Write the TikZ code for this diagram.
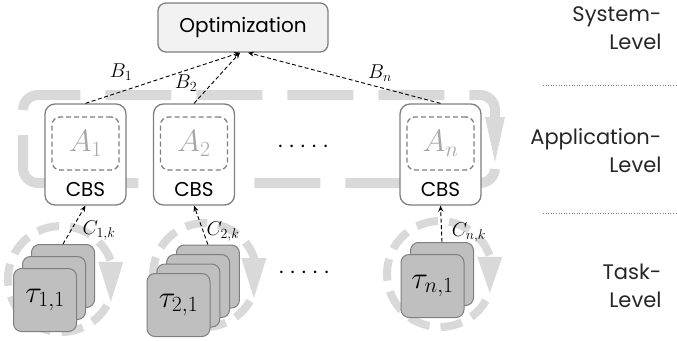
\RequirePackage{fix-cm}
\documentclass[tikz,border=0pt]{standalone}
\usepackage{fontspec}
\setmainfont{Poppins}
\usetikzlibrary{arrows.meta,positioning}
\definecolor{loopgray}{RGB}{217,217,217}
\definecolor{taskgray}{RGB}{191,191,191}
\definecolor{edgegray}{RGB}{127,127,127}
\definecolor{labelgray}{RGB}{166,166,166}
\definecolor{optfill}{RGB}{242,242,242}
\definecolor{textdark}{RGB}{38,38,38}

\begin{document}
\begin{tikzpicture}[x=1pt,y=-1pt,
    optbox/.style={draw=edgegray,line width=1.3pt,fill=optfill,rounded corners=8pt,
      minimum width=170pt,minimum height=49pt,font=\fontsize{20}{22}\selectfont},
    appbox/.style={draw=edgegray,line width=1.3pt,fill=white,rounded corners=10pt,
      minimum width=81pt,minimum height=101pt},
    innerbox/.style={draw=edgegray,line width=1.3pt,dash pattern=on 5pt off 3pt,rounded corners=8pt,
      minimum width=67pt,minimum height=53pt,text=labelgray,font=\fontsize{31}{34}\selectfont},
    cbslabel/.style={inner sep=0pt,font=\fontsize{20}{24}\selectfont},
    taskbox/.style={draw=edgegray,line width=1pt,fill=taskgray,rounded corners=8pt,
      minimum size=63pt,font=\fontsize{31}{34}\selectfont},
    bigloop/.style={loopgray,line width=10pt,rounded corners=15pt,dash pattern=on 66pt off 25pt},
    taskloop/.style={loopgray,line width=8pt,dash pattern=on 22pt off 11pt},
    flow/.style={-{Stealth[length=6pt,width=5pt]},line width=0.9pt,dash pattern=on 4pt off 2.5pt},
    flowlabel/.style={inner sep=1pt,font=\fontsize{20}{24}\selectfont},
    dotrow/.style={inner sep=0pt,font=\fontsize{20}{24}\selectfont},
    levellabel/.style={align=right,anchor=east,text=textdark,font=\fontsize{21}{28}\selectfont},
    sepline/.style={edgegray,line width=0.6pt,dotted}]
  \useasboundingbox (0,0) rectangle (677,340);

  % feedback loops
  \draw[bigloop,-{Triangle[length=45pt,width=20pt,line width=0pt]}] (23,110) -- (23,95) -- (495,95) -- (495,162);
  \draw[bigloop,dash phase=66pt] (23,110) -- (23,183) -- (495,183) -- (495,168);
  \draw[taskloop,-{Triangle[length=40pt,width=25pt,line width=0pt]}] (61,279) ++(30:53)
    arc[start angle=30,end angle=340,radius=53] -- ++(0,41);
  \draw[taskloop,-{Triangle[length=40pt,width=25pt,line width=0pt]}] (205,275) ++(30:52)
    arc[start angle=30,end angle=340,radius=52] -- ++(0,41);
  \draw[taskloop,-{Triangle[length=36pt,width=25pt,line width=0pt]}] (440,274) ++(30:53)
    arc[start angle=30,end angle=340,radius=53] -- ++(0,37);

  % tasks
  \foreach \k in {2,1} \node[taskbox] (s1\k) at ({45+9*\k},{300-12*\k}) {};
  \node[taskbox] (s10) at (45,300) {$\tau_{1,1}$};
  \foreach \k in {3,2,1} \node[taskbox] (s2\k) at ({178.5+9.8*\k},{305-9.5*\k}) {};
  \node[taskbox] (s20) at (178.5,305) {$\tau_{2,1}$};
  \node[taskbox] (sn1) at (442,274) {};
  \node[taskbox] (sn0) at (432.5,286) {$\tau_{n,1}$};

  % applications
  \node[appbox] (app1) at (85.5,154.5) {};
  \node[innerbox] (a1) at (85.5,143.5) {$A_1$};
  \node[cbslabel] (cbs1) at (85.5,190) {CBS};
  \node[appbox] (app2) at (194,154.5) {};
  \node[innerbox] (a2) at (194,143.5) {$A_2$};
  \node[cbslabel] (cbs2) at (194,190) {CBS};
  \node[appbox] (appn) at (440.5,154.5) {};
  \node[innerbox] (an) at (440.5,143.5) {$A_n$};
  \node[cbslabel] (cbsn) at (440.5,190) {CBS};
  \node[dotrow] (dotsapp) at (303,146) {. . . . .};
  \node[dotrow] (dotstask) at (304,272) {. . . . .};

  \node[optbox] (opt) at (243,27.5) {Optimization};

  % budgets and demands
  \draw[flow] (app1.north) -- ([xshift=-3pt]opt.south);
  \draw[flow] (app2.north) -- ([xshift=-3pt]opt.south);
  \draw[flow] (appn.north) -- ([xshift=5pt]opt.south);
  \node[flowlabel] (lb1) at (121,72) {$B_1$};
  \node[flowlabel] (lb2) at (186,83) {$B_2$};
  \node[flowlabel] (lbn) at (380,73) {$B_n$};
  \draw[flow] (s12.north) -- (app1.south);
  \draw[flow] (s23.north) -- (app2.south);
  \draw[flow] (sn1.north) -- (appn.south);
  \node[flowlabel] (lc1) at (99,231) {$C_{1,k}$};
  \node[flowlabel] (lc2) at (223,232) {$C_{2,k}$};
  \node[flowlabel] (lcn) at (469,233) {$C_{n,k}$};

  % levels
  \node[levellabel] (syslvl) at (665,28) {System-\\Level};
  \node[levellabel] (applvl) at (665,151) {Application-\\Level};
  \node[levellabel] (tasklvl) at (665,286) {Task-\\Level};
  \draw[sepline] (543,85) -- (677,85);
  \draw[sepline] (543,213) -- (677,213);
\end{tikzpicture}
\end{document}
